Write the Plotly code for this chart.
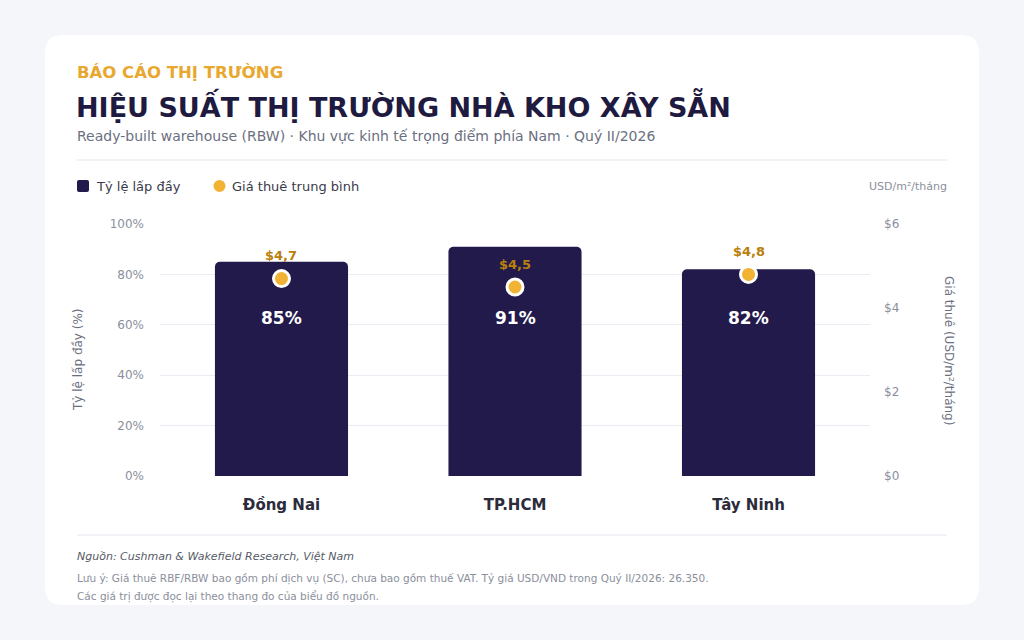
import plotly.graph_objects as go

# ---------------- data ----------------
categories = ["Đồng Nai", "TP.HCM", "Tây Ninh"]
occupancy = [85, 91, 82]          # %
rent = [4.7, 4.5, 4.8]            # USD/m²/tháng
rent_labels = ["$4,7", "$4,5", "$4,8"]
occ_ticks = [0, 20, 40, 60, 80, 100]
rent_ticks = [0, 2, 4, 6]

W, H = 1024, 640
FONT = "DejaVu Sans"
BAR = "#221a4b"
GOLD = "#f2b233"
GOLD_TXT = "#b9800d"
DARK = "#1f1a40"
GRAY = "#8a8f9c"


def px(x):
    return x / W


def py(y):
    return 1 - y / H


fig = go.Figure()

fig.add_trace(go.Bar(
    x=categories, y=occupancy, marker=dict(color=BAR, cornerradius=5, line=dict(width=0)),
    width=0.57, name="Tỷ lệ lấp đầy", showlegend=False, hoverinfo="skip",
))
fig.add_trace(go.Scatter(
    x=categories, y=rent, yaxis="y2", mode="markers",
    marker=dict(color=GOLD, size=16, line=dict(color="white", width=3)),
    name="Giá thuê trung bình", showlegend=False, hoverinfo="skip",
))

annotations = []
# occupancy labels inside bars at a common level
LABEL_LEVEL = 62.7
for c, v in zip(categories, occupancy):
    annotations.append(dict(x=c, y=LABEL_LEVEL, xref="x", yref="y", text=f"<b>{v}%</b>",
                            showarrow=False, font=dict(family=FONT, size=17, color="white")))
# rent labels above dots
for c, v, t in zip(categories, rent, rent_labels):
    annotations.append(dict(x=c, y=v, xref="x", yref="y2", text=f"<b>{t}</b>", yshift=23,
                            showarrow=False, font=dict(family=FONT, size=13, color=GOLD_TXT)))

# header texts
annotations += [
    dict(x=px(75), y=py(72), text="<b>BÁO CÁO THỊ TRƯỜNG</b>",
         xanchor="left", yanchor="middle", font=dict(family=FONT, size=16.5, color="#e8a830")),
    dict(x=px(74), y=py(105), text="<b>HIỆU SUẤT THỊ TRƯỜNG NHÀ KHO XÂY SẴN</b>",
         xanchor="left", yanchor="middle", font=dict(family=FONT, size=27, color=DARK)),
    dict(x=px(75), y=py(136), text="Ready-built warehouse (RBW) · Khu vực kinh tế trọng điểm phía Nam · Quý II/2026",
         xanchor="left", yanchor="middle", font=dict(family=FONT, size=14, color="#6b7080")),
    # legend
    dict(x=px(94), y=py(186), text="Tỷ lệ lấp đầy", xanchor="left", yanchor="middle",
         font=dict(family=FONT, size=13, color="#3a3a4a")),
    dict(x=px(230), y=py(186), text="Giá thuê trung bình", xanchor="left", yanchor="middle",
         font=dict(family=FONT, size=13, color="#3a3a4a")),
    dict(x=px(949), y=py(186), text="USD/m²/tháng", xanchor="right", yanchor="middle",
         font=dict(family=FONT, size=11, color=GRAY)),
    # axis titles
    dict(x=px(78), y=py(360), text="Tỷ lệ lấp đầy (%)", textangle=-90, xanchor="center", yanchor="middle",
         font=dict(family=FONT, size=12, color="#6b7080")),
    dict(x=px(949), y=py(350), text="Giá thuê (USD/m²/tháng)", textangle=90, xanchor="center", yanchor="middle",
         font=dict(family=FONT, size=12, color="#6b7080")),
    # footer
    dict(x=px(75), y=py(556), text="<i>Nguồn: Cushman &amp; Wakefield Research, Việt Nam</i>", xanchor="left", yanchor="middle",
         font=dict(family=FONT, size=11, color="#555a66")),
    dict(x=px(75), y=py(578), text="Lưu ý: Giá thuê RBF/RBW bao gồm phí dịch vụ (SC), chưa bao gồm thuế VAT. Tỷ giá USD/VND trong Quý II/2026: 26.350.",
         xanchor="left", yanchor="middle", font=dict(family=FONT, size=10.5, color=GRAY)),
    dict(x=px(75), y=py(596), text="Các giá trị được đọc lại theo thang đo của biểu đồ nguồn.",
         xanchor="left", yanchor="middle", font=dict(family=FONT, size=10.5, color=GRAY)),
]
for a in annotations:
    a.setdefault("xref", "paper")
    a.setdefault("yref", "paper")
    a.setdefault("showarrow", False)


def rounded_rect(x0, y0, x1, y1, r):
    rx, ry = r / W, r / H
    X0, X1 = px(x0), px(x1)
    Y0, Y1 = py(y0), py(y1)  # Y0 top, Y1 bottom
    return (f"M {X0+rx},{Y0} L {X1-rx},{Y0} Q {X1},{Y0} {X1},{Y0-ry} "
            f"L {X1},{Y1+ry} Q {X1},{Y1} {X1-rx},{Y1} L {X0+rx},{Y1} "
            f"Q {X0},{Y1} {X0},{Y1+ry} L {X0},{Y0-ry} Q {X0},{Y0} {X0+rx},{Y0} Z")


shapes = [
    dict(type="path", path=rounded_rect(45, 35, 979, 605, 18), xref="paper", yref="paper",
         fillcolor="white", line=dict(width=0), layer="below"),
    dict(type="line", xref="paper", yref="paper", x0=px(77), x1=px(947), y0=py(160), y1=py(160),
         line=dict(color="#e6e7ee", width=1)),
    dict(type="line", xref="paper", yref="paper", x0=px(77), x1=px(947), y0=py(535), y1=py(535),
         line=dict(color="#e6e7ee", width=1)),
    # legend symbols
    dict(type="path", path=rounded_rect(77, 180, 89, 192, 2), xref="paper", yref="paper",
         fillcolor=BAR, line=dict(width=0)),
    dict(type="circle", xref="paper", yref="paper", x0=px(213.5), x1=px(225.5), y0=py(180), y1=py(192),
         fillcolor=GOLD, line=dict(width=0)),
]

fig.update_layout(
    width=W, height=H, margin=dict(l=0, r=0, t=0, b=0, pad=0, autoexpand=False),
    paper_bgcolor="#f5f6fa", plot_bgcolor="rgba(0,0,0,0)",
    font=dict(family=FONT),
    showlegend=False,
    xaxis=dict(domain=[px(160), px(870)], range=[-0.5203, 2.5203], type="category",
               tickvals=categories, ticktext=[f"<b>{c}</b>" for c in categories],
               tickfont=dict(family=FONT, size=15, color="#2b2b3b"), ticks="",
               ticklabelstandoff=18, showgrid=False, zeroline=False, showline=False, automargin=False),
    yaxis=dict(domain=[py(476), py(224)], range=[0, 100], tickmode="array", tickvals=occ_ticks,
               ticktext=[f"{v}%" for v in occ_ticks], automargin=False,
               tickfont=dict(family=FONT, size=12, color=GRAY), gridcolor="#ebebf3", gridwidth=1,
               zeroline=False, showline=False, ticks="", ticklabelstandoff=15),
    yaxis2=dict(overlaying="y", side="right", range=[0, 6], tickmode="array", tickvals=rent_ticks,
                ticktext=[f"${v}" for v in rent_ticks], automargin=False,
                tickfont=dict(family=FONT, size=12, color=GRAY), showgrid=False, zeroline=False,
                showline=False, ticks="", ticklabelstandoff=13, anchor="x"),
    annotations=annotations,
    shapes=shapes,
)

fig.write_html("out.html", config={"displayModeBar": False, "responsive": False},
               post_script="document.body.style.margin='0';document.body.style.overflow='hidden';"
                           "document.documentElement.style.overflow='hidden';")
